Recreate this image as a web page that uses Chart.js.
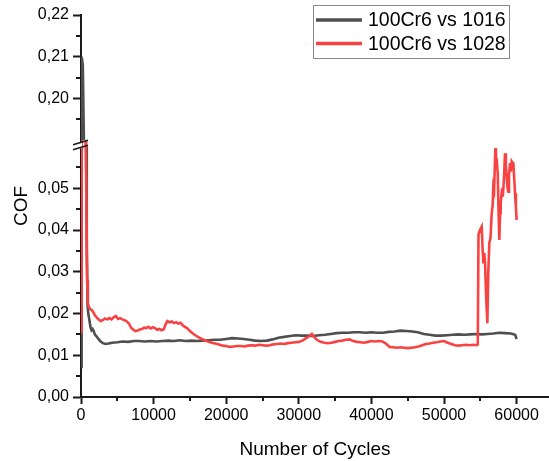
<!DOCTYPE html>
<html>
<head>
<meta charset="utf-8">
<script src="https://cdn.jsdelivr.net/npm/chart.js@4/dist/chart.umd.min.js"></script>
<style>
  html, body { margin: 0; padding: 0; background: #fff; }
  canvas { display: block; }
</style>
</head>
<body>
<canvas id="c" width="549" height="461"></canvas>
<script>
// ---------- data ----------
const seriesNames = ['100Cr6 vs 1016', '100Cr6 vs 1028'];

const cycles1016 = [
  0, 60, 120, 250, 400, 550, 700, 800, 900, 1000,
  1150, 1300, 1450, 1600, 1750, 1900, 2100, 2400, 2700, 3000,
  3400, 3800, 4300, 5000, 5700, 6500, 7300, 8000, 8800, 9600,
  10400, 11200, 12000, 12800, 13600, 14400, 15200, 16000, 16800, 17600,
  18400, 19200, 20000, 20800, 21600, 22400, 23200, 24000, 24800, 25600,
  26400, 27200, 28000, 28800, 29600, 30400, 31200, 32000, 32800, 33600,
  34400, 35200, 36000, 36800, 37600, 38400, 39200, 40000, 40800, 41600,
  42400, 43200, 44000, 44800, 45600, 46400, 47200, 48000, 48800, 49600,
  50400, 51200, 52000, 52800, 53600, 54400, 55200, 56000, 56800, 57600,
  58400, 59200, 59800, 60000
];
const cof1016 = [
  0.0072, 0.14, 0.21, 0.208, 0.19, 0.13, 0.06, 0.035, 0.022, 0.020,
  0.0185, 0.0168, 0.0160, 0.0163, 0.0158, 0.0150, 0.0146, 0.0139, 0.0133, 0.0129,
  0.0127, 0.0128, 0.0130, 0.0131, 0.0133, 0.0132, 0.0134, 0.0134, 0.0133, 0.0134,
  0.0133, 0.0134, 0.0135, 0.0134, 0.0136, 0.0134, 0.0135, 0.0134, 0.0135, 0.0136,
  0.0137, 0.0137, 0.0139, 0.0141, 0.0140, 0.0139, 0.0137, 0.0135, 0.0134, 0.0135,
  0.0138, 0.0142, 0.0144, 0.0146, 0.0148, 0.0147, 0.0147, 0.0146, 0.0148, 0.0149,
  0.0151, 0.0153, 0.0154, 0.0154, 0.0155, 0.0155, 0.0154, 0.0155, 0.0154, 0.0154,
  0.0156, 0.0157, 0.0159, 0.0158, 0.0157, 0.0155, 0.0151, 0.0149, 0.0147, 0.0147,
  0.0148, 0.0149, 0.0150, 0.0149, 0.0150, 0.0151, 0.0150, 0.0151, 0.0152, 0.0154,
  0.0153, 0.0152, 0.0149, 0.0139
];

const cycles1028 = [
  0, 80, 160, 300, 450, 600, 750, 850, 950, 1100,
  1300, 1500, 1700, 1900, 2100, 2400, 2700, 3000, 3300, 3600,
  3900, 4200, 4500, 4800, 5100, 5400, 5700, 6000, 6300, 6600,
  6900, 7200, 7500, 7800, 8100, 8400, 8700, 9000, 9300, 9600,
  9900, 10200, 10500, 10800, 11100, 11400, 11700, 11900, 12200, 12500,
  12800, 13100, 13400, 13700, 14000, 14300, 14600, 15000, 15500, 16000,
  16500, 17000, 17500, 18000, 18500, 19000, 19500, 20000, 20500, 21000,
  21500, 22000, 22500, 23000, 23500, 24000, 24500, 25000, 25500, 26000,
  26500, 27000, 27500, 28000, 28500, 29000, 29500, 30000, 30500, 31000,
  31500, 31800, 32100, 32500, 33000, 33500, 34000, 34500, 35000, 35500,
  36000, 36500, 37000, 37500, 38000, 38500, 39000, 39500, 40000, 40500,
  41000, 41500, 42000, 42500, 43000, 43500, 44000, 44500, 45000, 45500,
  46000, 46500, 47000, 47500, 48000, 48500, 49000, 49500, 50000, 50500,
  51000, 51500, 52000, 52500, 53000, 53500, 54000, 54500, 54650, 54750,
  54960, 55190, 55300, 55420, 55550, 55650, 55800, 55970, 56100, 56240,
  56400, 56570, 56700, 56790, 56900, 57070, 57160, 57260, 57400, 57500,
  57620, 57720, 57810, 57990, 58100, 58250, 58400, 58520, 58640, 58760,
  58860, 58950, 59090, 59200, 59320, 59450, 59550, 59680, 59780, 59900,
  60000
];
const cof1028 = [
  0.0155, 0.09, 0.13, 0.115, 0.09, 0.07, 0.045, 0.028, 0.0225, 0.0215,
  0.0210, 0.0208, 0.0203, 0.0196, 0.0192, 0.0186, 0.0182, 0.0184, 0.0188, 0.0186,
  0.0189, 0.0186, 0.0191, 0.0194, 0.0187, 0.0189, 0.0186, 0.0184, 0.0181, 0.0176,
  0.0166, 0.0161, 0.0158, 0.0159, 0.0162, 0.0163, 0.0166, 0.0165, 0.0168, 0.0164,
  0.0167, 0.0165, 0.0161, 0.0163, 0.0160, 0.0162, 0.0176, 0.0182, 0.0179, 0.0181,
  0.0177, 0.0179, 0.0176, 0.0178, 0.0172, 0.0168, 0.0165, 0.0158, 0.0151, 0.0145,
  0.0140, 0.0136, 0.0133, 0.0130, 0.0128, 0.0126, 0.0123, 0.0122, 0.0120, 0.0121,
  0.0122, 0.0122, 0.0121, 0.0123, 0.0124, 0.0123, 0.0125, 0.0124, 0.0123, 0.0124,
  0.0126, 0.0127, 0.0128, 0.0127, 0.0129, 0.0130, 0.0131, 0.0132, 0.0135, 0.0141,
  0.0146, 0.0151, 0.0144, 0.0137, 0.0132, 0.0130, 0.0129, 0.0130, 0.0132, 0.0134,
  0.0135, 0.0137, 0.0138, 0.0134, 0.0132, 0.0131, 0.0130, 0.0132, 0.0134, 0.0133,
  0.0134, 0.0133, 0.0128, 0.0120, 0.0119, 0.0118, 0.0119, 0.0118, 0.0117, 0.0118,
  0.0119, 0.0121, 0.0124, 0.0127, 0.0128, 0.0130, 0.0131, 0.0133, 0.0134, 0.0130,
  0.0127, 0.0124, 0.0123, 0.0124, 0.0125, 0.0124, 0.0125, 0.0124, 0.0126, 0.0390,
  0.0400, 0.0408, 0.0360, 0.0320, 0.0345, 0.0320, 0.0240, 0.0177, 0.0300, 0.0369,
  0.0380, 0.0440, 0.0460, 0.0504, 0.0496, 0.0596, 0.0575, 0.0568, 0.0536, 0.0450,
  0.0376, 0.0440, 0.0464, 0.0500, 0.0480, 0.0520, 0.0584, 0.0550, 0.0528, 0.0500,
  0.0492, 0.0530, 0.0560, 0.0540, 0.0564, 0.0560, 0.0560, 0.0520, 0.0488, 0.0456,
  0.0424
];

const xTickValues = [0, 10000, 20000, 30000, 40000, 50000, 60000];
const xMinorTickValues = [5000, 15000, 25000, 35000, 45000, 55000];
const yLowerTickValues = [0, 0.01, 0.02, 0.03, 0.04, 0.05];
const yLowerMinorValues = [0.005, 0.015, 0.025, 0.035, 0.045, 0.055];
const yUpperTickValues = [0.20, 0.21, 0.22];
const yUpperMinorValues = [0.195, 0.205, 0.215];

const xTitle = 'Number of Cycles';
const yTitle = 'COF';

// ---------- styling ----------
const GRAY = '#4f4f4f';
const RED = '#f94242';
const AXIS = '#1a1a1a';
const FONT = '"Liberation Sans", Arial, sans-serif';

const toPoints = (xs, ys) => xs.map((x, i) => ({ x: x, y: ys[i] }));
const fmt = v => v.toFixed(2).replace('.', ',');

function lineDs(label, xs, ys, color, axis, order) {
  return {
    label: label,
    data: toPoints(xs, ys),
    borderColor: color,
    backgroundColor: color,
    borderWidth: 2.6,
    pointRadius: 0,
    tension: 0,
    fill: false,
    yAxisID: axis,
    order: order
  };
}

// clip each dataset to the band of its own y scale (broken axis)
const bandClip = {
  id: 'bandClip',
  beforeDatasetDraw(chart, args) {
    const ys = args.meta.yScale;
    const ca = chart.chartArea;
    const ctx = chart.ctx;
    ctx.save();
    ctx.beginPath();
    ctx.rect(ca.left - 3, ys.top - 2, ca.right - ca.left + 6, ys.bottom - ys.top + 4);
    ctx.clip();
  },
  afterDatasetDraw(chart) {
    chart.ctx.restore();
  }
};

const decorations = {
  id: 'decorations',
  afterDraw(chart) {
    const ctx = chart.ctx;
    const xs = chart.scales.x;
    const yl = chart.scales.y;
    const yu = chart.scales.yTop;
    const left = chart.chartArea.left;
    const bottom = chart.chartArea.bottom;
    ctx.save();
    ctx.strokeStyle = AXIS;
    ctx.lineWidth = 2;
    // minor ticks
    ctx.beginPath();
    xMinorTickValues.forEach(v => {
      const p = Math.round(xs.getPixelForValue(v));
      ctx.moveTo(p, bottom);
      ctx.lineTo(p, bottom + 4);
    });
    yLowerMinorValues.forEach(v => {
      const p = Math.round(yl.getPixelForValue(v));
      ctx.moveTo(left, p);
      ctx.lineTo(left - 5, p);
    });
    yUpperMinorValues.forEach(v => {
      const p = Math.round(yu.getPixelForValue(v));
      ctx.moveTo(left, p);
      ctx.lineTo(left - 5, p);
    });
    ctx.stroke();

    // axis break
    const yb = Math.min(yu.bottom, yl.bottom) + 5;
    ctx.fillStyle = '#fff';
    ctx.fillRect(left - 2, yb - 3, 3, 6);
    ctx.beginPath();
    ctx.lineWidth = 1.6;
    ctx.moveTo(left - 8, yb - 0.5);
    ctx.lineTo(left + 7, yb - 5);
    ctx.moveTo(left - 8, yb + 4.5);
    ctx.lineTo(left + 7, yb);
    ctx.stroke();

    // y title (spans both stacked scales)
    ctx.fillStyle = '#000';
    ctx.font = '19px ' + FONT;
    ctx.textAlign = 'center';
    ctx.textBaseline = 'middle';
    ctx.translate(22, (chart.chartArea.top + chart.chartArea.bottom) / 2);
    ctx.rotate(-Math.PI / 2);
    ctx.fillText(yTitle, 0, 0);
    ctx.restore();

    // legend
    ctx.save();
    const bx = 313.5, by = 5.5, bw = 196, bh = 53;
    ctx.strokeStyle = '#8a8a8a';
    ctx.lineWidth = 1;
    ctx.strokeRect(bx, by, bw, bh);
    const rows = [20, 43.5];
    const colors = [GRAY, RED];
    ctx.font = '19.5px ' + FONT;
    ctx.textAlign = 'left';
    ctx.textBaseline = 'middle';
    seriesNames.forEach((name, i) => {
      ctx.strokeStyle = colors[i];
      ctx.lineWidth = 3.5;
      ctx.beginPath();
      ctx.moveTo(316, rows[i]);
      ctx.lineTo(362, rows[i]);
      ctx.stroke();
      ctx.fillStyle = '#000';
      ctx.fillText(name, 368, rows[i] + 1);
    });
    ctx.restore();
  }
};

const tickFont = { family: FONT, size: 16 };

new Chart(document.getElementById('c'), {
  type: 'line',
  data: {
    datasets: [
      lineDs(seriesNames[0], cycles1016, cof1016, GRAY, 'y', 2),
      lineDs(seriesNames[1], cycles1028, cof1028, RED, 'y', 1),
      lineDs(seriesNames[0] + ' (upper)', cycles1016, cof1016, GRAY, 'yTop', 2),
      lineDs(seriesNames[1] + ' (upper)', cycles1028, cof1028, RED, 'yTop', 1)
    ]
  },
  options: {
    responsive: false,
    animation: false,
    devicePixelRatio: 1,
    layout: { padding: { top: 15, right: 0, bottom: 0, left: 0 } },
    plugins: {
      legend: { display: false },
      tooltip: { enabled: false }
    },
    scales: {
      x: {
        type: 'linear',
        min: 0,
        max: 64460,
        afterBuildTicks: s => { s.ticks = xTickValues.map(v => ({ value: v })); },
        afterFit: s => { s.height = 64; },
        grid: { display: true, drawOnChartArea: false, drawTicks: true, tickLength: 7, tickWidth: 2, tickColor: AXIS },
        border: { display: true, color: AXIS, width: 2 },
        ticks: { color: '#000', font: tickFont, padding: 2, maxRotation: 0, autoSkip: false,
                 callback: v => String(v) },
        title: { display: true, text: xTitle, color: '#000', font: { family: FONT, size: 19, lineHeight: 1.2 }, padding: { top: 0, bottom: 0 } }
      },
      y: {
        type: 'linear',
        position: 'left',
        stack: 'cof',
        stackWeight: 0.0615,
        min: 0,
        max: 0.0615,
        afterBuildTicks: s => { s.ticks = yLowerTickValues.map(v => ({ value: v })); },
        afterFit: s => { s.width = 81; },
        grid: { display: true, drawOnChartArea: false, drawTicks: true, tickLength: 8, tickWidth: 2, tickColor: AXIS },
        border: { display: true, color: AXIS, width: 2 },
        ticks: { color: '#000', font: tickFont, padding: 4, autoSkip: false, callback: v => fmt(v) }
      },
      yTop: {
        type: 'linear',
        position: 'left',
        stack: 'cof',
        stackWeight: 0.03,
        min: 0.19,
        max: 0.22,
        afterBuildTicks: s => { s.ticks = yUpperTickValues.map(v => ({ value: v })); },
        afterFit: s => { s.width = 81; },
        grid: { display: true, drawOnChartArea: false, drawTicks: true, tickLength: 8, tickWidth: 2, tickColor: AXIS },
        border: { display: true, color: AXIS, width: 2 },
        ticks: { color: '#000', font: tickFont, padding: 4, autoSkip: false, callback: v => fmt(v) }
      }
    }
  },
  plugins: [bandClip, decorations]
});
</script>
</body>
</html>
